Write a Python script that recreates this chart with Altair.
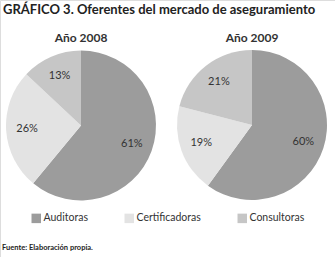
import altair as alt
import pandas as pd

categories = ["Auditoras", "Certificadoras", "Consultoras"]
values_2008 = [61, 26, 13]
values_2009 = [60, 19, 21]
years = ["Año 2008", "Año 2009"]
colors = ["#9c9c9c", "#e3e3e3", "#c6c6c6"]

FONT = "Lato, sans-serif"

rows = []
for yr, vals in zip(years, [values_2008, values_2009]):
    for i, (c, v) in enumerate(zip(categories, vals)):
        rows.append({"year": yr, "cat": c, "value": v, "idx": i, "label": f"{v}%"})
df = pd.DataFrame(rows)

color = alt.Color(
    "cat:N",
    scale=alt.Scale(domain=categories, range=colors),
    legend=alt.Legend(
        title=None, orient="none", legendX=31, legendY=213, direction="horizontal",
        symbolType="square", symbolSize=90, symbolStrokeWidth=0, symbolOpacity=1,
        labelFont=FONT, labelFontSize=10.5, labelColor="#333333", columnPadding=36,
        labelOffset=2,
    ),
)

centers = {"Año 2008": (81, 125.5), "Año 2009": (252, 125)}

base = alt.Chart(df)
layers = []
for yr in years:
    cx, cy = centers[yr]
    sub = base.transform_filter(alt.datum.year == yr)
    arcs = sub.mark_arc(radius=75).encode(
        theta=alt.Theta("value:Q", stack=True),
        color=color,
        order=alt.Order("idx:Q"),
        x=alt.value(cx),
        y=alt.value(cy),
    )
    labels = sub.mark_text(radius=54, font=FONT, fontSize=11, color="#333333").encode(
        theta=alt.Theta("value:Q", stack=True),
        order=alt.Order("idx:Q"),
        text="label:N",
        x=alt.value(cx),
        y=alt.value(cy),
    )
    head = alt.Chart(pd.DataFrame({"t": [yr]})).mark_text(
        font=FONT, fontSize=12, fontWeight="bold", color="#333333", baseline="alphabetic"
    ).encode(text="t:N", x=alt.value(cx), y=alt.value(42))
    layers += [arcs, labels, head]

title = alt.Chart(pd.DataFrame({"t": ["GRÁFICO 3. Oferentes del mercado de aseguramiento"]})).mark_text(
    font=FONT, fontSize=13, fontWeight="bold", color="#222222", align="left", baseline="alphabetic"
).encode(text="t:N", x=alt.value(3), y=alt.value(14))

footer = alt.Chart(pd.DataFrame({"t": ["Fuente: Elaboración propia."]})).mark_text(
    font=FONT, fontSize=7.5, fontWeight="bold", color="#222222", align="left", baseline="alphabetic"
).encode(text="t:N", x=alt.value(2), y=alt.value(250))

chart = alt.layer(*layers, title, footer).resolve_scale(theta="shared").properties(
    width=335, height=257, autosize=alt.AutoSizeParams(type="none"), padding=0
).configure_view(stroke=None).configure(background="white")

chart.save("out.html", embed_options={"renderer": "svg", "actions": False})
